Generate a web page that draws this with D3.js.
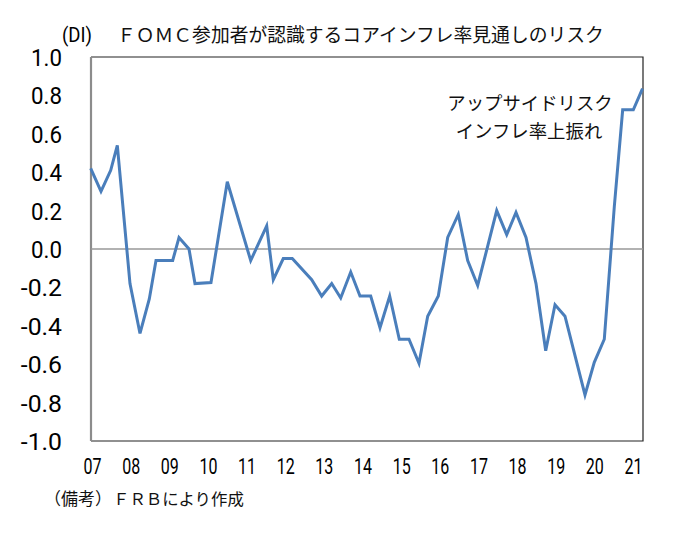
<!DOCTYPE html>
<html><head><meta charset="utf-8">
<script src="https://cdn.jsdelivr.net/npm/d3@7"></script>
<style>
html,body{margin:0;padding:0;background:#fff;}
svg{display:block;}
.num{font-family:Roboto,"Liberation Sans",Arial,sans-serif;font-weight:400;}
.jp{font-family:"Noto Sans CJK JP","Noto Sans",sans-serif;}
</style></head>
<body>
<svg id="c" width="674" height="536"></svg>
<script>
// ---- data ----
const title = "ＦＯＭＣ参加者が認識するコアインフレ率見通しのリスク";
const unitLabel = "(DI)";
const noteHead = "（備考）";
const noteBody = "ＦＲＢにより作成";
const annotation = ["アップサイドリスク", "インフレ率上振れ"];
const xTickYears = [2007,2008,2009,2010,2011,2012,2013,2014,2015,2016,2017,2018,2019,2020,2021];
const xTickLabels = ["07","08","09","10","11","12","13","14","15","16","17","18","19","20","21"];
const yTicks = [1.0,0.8,0.6,0.4,0.2,0.0,-0.2,-0.4,-0.6,-0.8,-1.0];
const times = [2006.966,2007.233,2007.484,2007.655,2007.983,2008.242,2008.483,2008.656,2009.088,2009.251,
  2009.510,2009.665,2010.079,2010.501,2011.107,2011.521,2011.692,2011.950,2012.183,2012.685,
  2012.944,2013.203,2013.436,2013.695,2013.935,2014.212,2014.453,2014.704,2014.952,2015.203,
  2015.462,2015.687,2015.962,2016.205,2016.479,2016.722,2016.981,2017.473,2017.732,2017.972,
  2018.231,2018.490,2018.741,2018.982,2019.240,2019.758,2019.998,2020.257,2020.516,2020.733,
  2021.008,2021.246];
const values = [0.42,0.30,0.41,0.54,-0.18,-0.44,-0.26,-0.06,-0.06,0.06,
  0.00,-0.18,-0.175,0.35,-0.06,0.12,-0.16,-0.05,-0.05,-0.16,
  -0.245,-0.18,-0.255,-0.12,-0.245,-0.245,-0.41,-0.245,-0.47,-0.47,
  -0.595,-0.35,-0.245,0.06,0.18,-0.06,-0.19,0.20,0.075,0.19,
  0.06,-0.18,-0.53,-0.29,-0.35,-0.76,-0.59,-0.47,0.22,0.725,
  0.725,0.835];

// ---- layout ----
const plot = {left:91, right:643, top:57, bottom:441};
const svg = d3.select("#c");
const x = d3.scaleLinear().domain([2007,2021]).range([92,633]);
const y = d3.scaleLinear().domain([-1,1]).range([plot.bottom, plot.top]);

svg.append("rect").attr("width",674).attr("height",536).attr("fill","#fff");

// frame
svg.append("path")
  .attr("d",`M${plot.left},${plot.top}H${plot.right}V${plot.bottom}H${plot.left}`)
  .attr("fill","none").attr("stroke","#222").attr("stroke-width",1.2);
svg.append("line").attr("x1",plot.left).attr("x2",plot.left)
  .attr("y1",plot.top).attr("y2",plot.bottom)
  .attr("stroke","#8c8c8c").attr("stroke-width",2.2);

// zero line
svg.append("line").attr("x1",plot.left).attr("x2",plot.right)
  .attr("y1",y(0)).attr("y2",y(0))
  .attr("stroke","#999").attr("stroke-width",1.6);

// y axis
const yAxis = d3.axisLeft(y).tickValues(yTicks).tickSize(0).tickPadding(0)
  .tickFormat(d => d.toFixed(1));
const gy = svg.append("g").attr("transform",`translate(62,0)`).call(yAxis);
gy.select(".domain").remove();
gy.selectAll("text").attr("class","num").attr("font-size",23.5).attr("fill","#000")
  .attr("dy","0.36em")
  .attr("lengthAdjust","spacingAndGlyphs")
  .attr("textLength", d => d.toFixed(1).length * 10.3);

// x axis
const xAxis = d3.axisBottom(x).tickValues(xTickYears).tickSize(0).tickPadding(0)
  .tickFormat((d,i) => xTickLabels[i]);
const gx = svg.append("g").attr("transform",`translate(0,459)`).call(xAxis);
gx.select(".domain").remove();
gx.selectAll("text").attr("class","num").attr("font-size",21.5).attr("fill","#000")
  .attr("dy","0.71em")
  .attr("lengthAdjust","spacingAndGlyphs")
  .attr("textLength", 18);

// line
const line = d3.line().x((d,i)=>x(times[i])).y(d=>y(d));
svg.append("path").datum(values).attr("d",line)
  .attr("fill","none").attr("stroke","#4a7ebb").attr("stroke-width",3)
  .attr("stroke-linejoin","miter");

// title
svg.append("text").attr("class","num").attr("x",62).attr("y",42)
  .attr("font-size",20).attr("fill","#000")
  .attr("lengthAdjust","spacingAndGlyphs").attr("textLength",30).text(unitLabel);
svg.append("text").attr("class","jp").attr("x",117).attr("y",42)
  .attr("font-size",18.8).attr("fill","#111").text(title);

// annotation
svg.append("text").attr("class","jp").attr("x",530).attr("y",110)
  .attr("text-anchor","middle").attr("font-size",18.4).attr("fill","#111").text(annotation[0]);
svg.append("text").attr("class","jp").attr("x",529).attr("y",138)
  .attr("text-anchor","middle").attr("font-size",18.4).attr("fill","#111").text(annotation[1]);

// note
svg.append("text").attr("class","jp").attr("x",44).attr("y",505)
  .attr("font-size",17).attr("fill","#111").text(noteHead);
svg.append("text").attr("class","jp").attr("x",113).attr("y",505)
  .attr("font-size",16.4).attr("fill","#111").text(noteBody);
</script>
</body></html>
